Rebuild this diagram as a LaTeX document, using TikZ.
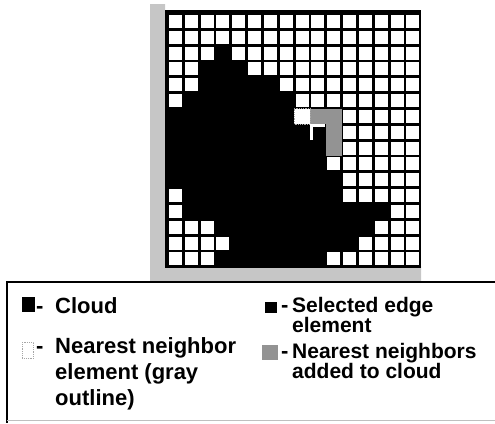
\documentclass[tikz,border=0pt]{standalone}
\usepackage{fontspec}
\setmainfont{Liberation Sans}

\begin{document}
\begin{tikzpicture}[x=1pt,y=-1pt,inner sep=0pt,
  added/.style={fill=gray!85},
  nbr/.style={fill=white,draw=gray!70,densely dotted,line width=0.8pt},
  txt/.style={font=\fontsize{22}{26}\selectfont\bfseries,align=left,anchor=north west},
  txtb/.style={txt,font=\fontsize{21}{20}\selectfont\bfseries}]
\def\p{15.83}
\useasboundingbox (0,0) rectangle (495,423);
\fill[gray!45] (150,4) rectangle (165,281) (150,266) rectangle (421,281);
\fill (165,10) rectangle (421,268);
\foreach \r/\cs in {0/{0,...,15},1/{0,...,15},2/{0,1,2,4,5,...,15},3/{0,1,5,6,...,15},
  4/{0,1,7,8,...,15},5/{0,8,9,...,15},6/{11,...,15},7/{11,...,15},8/{11,...,15},
  9/{10,...,15},10/{11,...,15},11/{0,11,12,...,15},12/{0,14,15},13/{0,1,2,13,14,15},
  14/{0,1,2,3,12,13,14,15},15/{0,1,2,10,11,...,15}}
  \foreach \c in \cs
    \fill[white] (169+\c*\p,15+\r*\p) rectangle +(13,13);
\fill[added] (167.6+9*\p,13.6+6*\p) rectangle +(\p,\p);
\fill[added] (167.6+10*\p,13.6+6*\p) rectangle +(\p,3*\p);
\draw[nbr] (167.6+8*\p,13.6+6*\p) rectangle +(\p,\p);
\draw[white,line width=3pt] (167.6+9*\p+1.5,13.6+8*\p) -- ++(0,-\p+1.5) -- ++(\p-2,0);

\draw[line width=2.5pt] (495,282) -- (7,282) -- (7,423);
\draw[gray!50,line width=0.8pt] (7,420) -- (495,420);

\node[fill,minimum width=13pt,minimum height=15pt,anchor=north west] (k1) at (22,297) {};
\node[nbr,minimum width=11pt,minimum height=16pt,anchor=north west] (k2) at (22,342) {};
\node[fill,minimum width=12pt,minimum height=11pt,anchor=north west] (k3) at (265,302) {};
\node[added,minimum width=16pt,minimum height=15pt,anchor=north west] (k4) at (262,345) {};

\node[txt,anchor=base west] (h1) at (36,313) {-};
\node[txt,anchor=base west] (h2) at (36,353) {-};
\node[txt,anchor=base west] (h3) at (281,312) {-};
\node[txt,anchor=base west] (h4) at (281,358) {-};
\node[txt] (t1) at (55,297) {Cloud};
\node[txt] (t2) at (55,337) {Nearest neighbor\\element (gray\\outline)};
\node[txtb] (t3) at (292,296.7) {Selected edge\\element};
\node[txtb] (t4) at (292,342.7) {Nearest neighbors\\added to cloud};
\end{tikzpicture}
\end{document}
